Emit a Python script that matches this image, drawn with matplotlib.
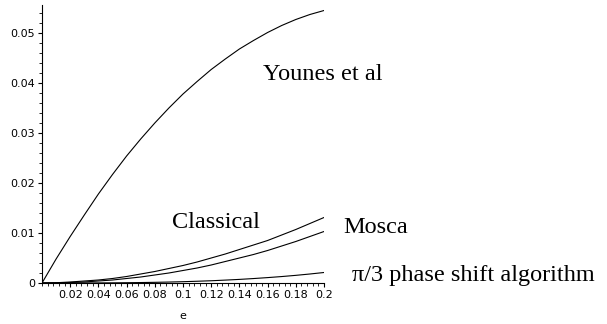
import matplotlib
matplotlib.use("Agg")
import matplotlib.pyplot as plt
from matplotlib.ticker import MultipleLocator, FixedLocator

# valores de e (eixo x)
e = [0.0, 0.01, 0.02, 0.03, 0.04, 0.05, 0.06, 0.07, 0.08, 0.09, 0.10,
     0.11, 0.12, 0.13, 0.14, 0.15, 0.16, 0.17, 0.18, 0.19, 0.20]

# curvas de probabilidade de erro
younes = [0.0, 0.0048, 0.0093, 0.0136, 0.0178, 0.0217, 0.0254, 0.0288, 0.0320, 0.0350, 0.0378,
          0.0403, 0.0427, 0.0448, 0.0468, 0.0485, 0.0501, 0.0515, 0.0527, 0.0537, 0.0545]
classical = [0.0, 0.00005, 0.0002, 0.0004, 0.0006, 0.0009, 0.0013, 0.0018, 0.0023, 0.0029, 0.0035,
             0.0042, 0.0050, 0.0058, 0.0067, 0.0076, 0.0085, 0.0096, 0.0107, 0.0119, 0.0131]
mosca = [0.0, 0.00003, 0.0001, 0.0002, 0.0004, 0.0006, 0.0009, 0.0012, 0.0016, 0.0020, 0.0025,
         0.0030, 0.0036, 0.0043, 0.0050, 0.0057, 0.0065, 0.0074, 0.0083, 0.0093, 0.0103]
pi3 = [0.0, 0.0, 0.000002, 0.000007, 0.000017, 0.000033, 0.000057, 0.00009, 0.000134, 0.00019, 0.00026,
       0.00035, 0.00045, 0.00058, 0.00072, 0.00089, 0.00108, 0.00129, 0.00153, 0.0018, 0.0021]

xticks = [0.02, 0.04, 0.06, 0.08, 0.1, 0.12, 0.14, 0.16, 0.18, 0.2]
xticklabels = ["0.02", "0.04", "0.06", "0.08", "0.1", "0.12", "0.14", "0.16", "0.18", "0.2"]
yticks = [0, 0.01, 0.02, 0.03, 0.04, 0.05]
yticklabels = ["0", "0.01", "0.02", "0.03", "0.04", "0.05"]

fig = plt.figure(figsize=(6.07, 3.24), dpi=100)
ax = fig.add_axes([42 / 607, 41 / 324, 282 / 607, 278 / 324])

for serie in (younes, classical, mosca, pi3):
    ax.plot(e, serie, color="black", linewidth=0.8)

ax.set_xlim(0, 0.2)
ax.set_ylim(0, 0.0556)

# eixos estilo Maple: só esquerda e baixo
ax.spines["top"].set_visible(False)
ax.spines["right"].set_visible(False)
ax.spines["left"].set_linewidth(0.8)
ax.spines["bottom"].set_linewidth(0.8)

ax.xaxis.set_major_locator(FixedLocator(xticks))
ax.set_xticklabels(xticklabels)
ax.yaxis.set_major_locator(FixedLocator(yticks))
ax.set_yticklabels(yticklabels)
ax.xaxis.set_minor_locator(MultipleLocator(0.004))
ax.yaxis.set_minor_locator(MultipleLocator(0.002))
ax.tick_params(which="major", direction="out", length=3, width=0.8, labelsize=8, pad=2)
ax.tick_params(which="minor", direction="out", length=2, width=0.6)

ax.set_xlabel("e", fontsize=8, labelpad=8)

# rótulos das curvas
fonte = dict(family="Liberation Serif", fontsize=17.5, va="baseline", ha="left")
fig.text(263 / 607, 1 - 80 / 324, "Younes et al", **fonte)
fig.text(172 / 607, 1 - 228 / 324, "Classical", **fonte)
fig.text(343 / 607, 1 - 233 / 324, "Mosca", **fonte)
fig.text(352 / 607, 1 - 281 / 324, "π/3 phase shift algorithm", **fonte)

fig.savefig("out.png", dpi=100)
